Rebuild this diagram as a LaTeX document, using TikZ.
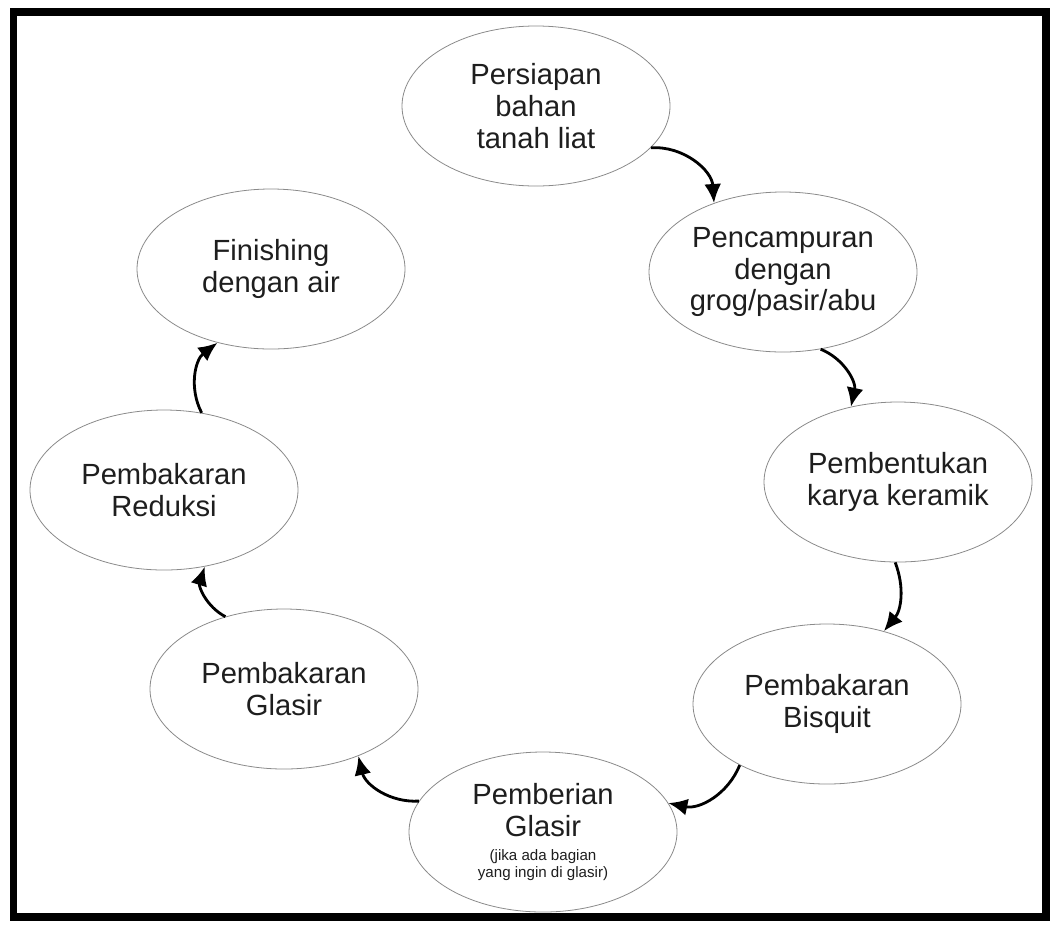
\documentclass[tikz,border=0pt]{standalone}
\usepackage{fontspec}
\setmainfont{Liberation Sans}
\usetikzlibrary{arrows.meta,shapes.geometric}
\definecolor{rimgray}{HTML}{8A8A8A}
\definecolor{inkblack}{HTML}{1E1E1E}
\newcommand{\notefont}{\fontsize{8.6}{10}\selectfont}
\tikzset{
  stagebox/.style={ellipse,draw=rimgray,line width=0.45pt,fill=white,minimum width=53.6mm,minimum height=32mm,inner sep=0pt,align=center,text=inkblack,font=\fontsize{16.6}{18}\selectfont},
  flow/.style={-{Latex[length=3.8mm,width=3.4mm]},line width=1.6pt,draw=black,bend left=40},
  frame/.style={draw=black,line width=1.5mm}
}
\begin{document}
\begin{tikzpicture}[x=0.2mm,y=-0.2mm]
  \useasboundingbox (0,0) rectangle (1054,926);
  \draw[frame] (13.5,12) rectangle (1046,917);
  \node[stagebox] (persiapan) at (536,106) {Persiapan\\bahan\\tanah liat};
  \node[stagebox] (pencampuran) at (783,272) {Pencampuran\\dengan\\grog/pasir/abu};
  \node[stagebox] (pembentukan) at (898,482) {Pembentukan\\karya keramik};
  \node[stagebox] (bisquit) at (827,704) {Pembakaran\\Bisquit};
  \node[stagebox] (pemberian) at (543,832) {Pemberian\\Glasir\\[-4pt]{\notefont (jika ada bagian}\\[-8.5pt]{\notefont yang ingin di glasir)}};
  \node[stagebox] (glasirbakar) at (284,689) {Pembakaran\\Glasir};
  \node[stagebox] (reduksi) at (164,490) {Pembakaran\\Reduksi};
  \node[stagebox] (finishing) at (271,269) {Finishing\\dengan air};
  \draw[flow,bend left=45] (persiapan.-20) to (pencampuran.135);
  \draw[flow] (pencampuran.-64) to (pembentukan.122);
  \draw[flow,bend left=30] (pembentukan.-92) to (bisquit.52);
  \draw[flow] (bisquit.-145) to (pemberian.13);
  \draw[flow] (pemberian.166) to (glasirbakar.-42);
  \draw[flow] (glasirbakar.129) to (reduksi.-62);
  \draw[flow] (reduksi.64) to (finishing.-126);
\end{tikzpicture}
\end{document}
